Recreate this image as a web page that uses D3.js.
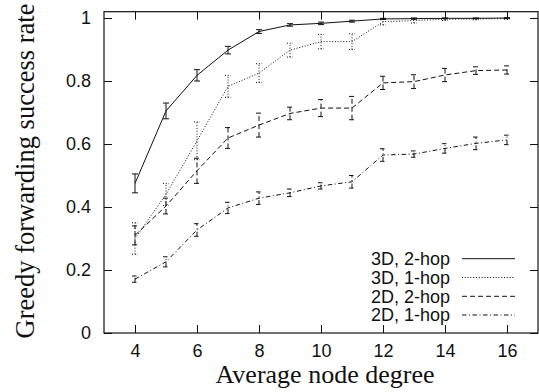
<!DOCTYPE html>
<html><head><meta charset="utf-8">
<script src="https://cdn.jsdelivr.net/npm/d3@7"></script>
<style>body{margin:0;background:#fff}svg{display:block}</style>
</head><body>
<svg id="c" width="539" height="392"></svg>
<script>
const degrees = [4,5,6,7,8,9,10,11,12,13,14,15,16];
const seriesNames = ["3D, 2-hop","3D, 1-hop","2D, 2-hop","2D, 1-hop"];
const s3d2hop = [0.475,0.705,0.818,0.898,0.957,0.978,0.983,0.990,0.997,0.998,0.999,0.999,1.0];
const e3d2hop = [0.030,0.025,0.018,0.012,0.006,0.004,0.004,0.003,0.002,0.002,0.001,0.001,0.001];
const s3d1hop = [0.300,0.440,0.610,0.783,0.825,0.898,0.925,0.925,0.988,0.992,0.996,0.997,0.998];
const e3d1hop = [0.050,0.035,0.060,0.035,0.030,0.022,0.023,0.025,0.010,0.008,0.004,0.003,0.002];
const s2d2hop = [0.310,0.403,0.515,0.619,0.660,0.697,0.714,0.714,0.794,0.798,0.819,0.833,0.835];
const e2d2hop = [0.030,0.025,0.040,0.033,0.038,0.020,0.027,0.037,0.021,0.022,0.021,0.012,0.013];
const s2d1hop = [0.171,0.226,0.327,0.397,0.428,0.445,0.467,0.480,0.565,0.568,0.586,0.602,0.613];
const e2d1hop = [0.010,0.016,0.020,0.018,0.020,0.012,0.010,0.020,0.020,0.010,0.015,0.020,0.015];
const xTicks = [4,6,8,10,12,14,16];
const yTicks = [0,0.2,0.4,0.6,0.8,1];
const xTitle = "Average node degree";
const yTitle = "Greedy forwarding success rate";

const values = [s3d2hop,s3d1hop,s2d2hop,s2d1hop];
const errors = [e3d2hop,e3d1hop,e2d2hop,e2d1hop];
const dashes = [null,"1,1.8","5,3","4.5,2.5,1,2.5"];

const L=104, R=538, T=11.7, B=333;
const x = d3.scaleLinear().domain([3,17]).range([L,R]);
const y = d3.scaleLinear().domain([0,1.02]).range([B,T]);
const svg = d3.select("#c");
const ink = "#111";
const sans = "'Liberation Sans', Arial, sans-serif";
const serif = "'Liberation Serif', 'Times New Roman', serif";

const tl = 8;
svg.append("g").attr("transform",`translate(0,${B})`)
  .call(d3.axisBottom(x).tickValues(xTicks).tickSizeInner(-tl).tickSizeOuter(0).tickPadding(11).tickFormat(d3.format("d")))
  .call(g=>{g.select(".domain").remove();g.selectAll("line").attr("stroke",ink);
    g.selectAll("text").attr("font-family",sans).attr("font-size",18).attr("fill",ink);});
svg.append("g").attr("transform",`translate(0,${T})`)
  .call(d3.axisTop(x).tickValues(xTicks).tickSizeInner(-tl).tickSizeOuter(0).tickFormat(""))
  .call(g=>{g.select(".domain").remove();g.selectAll("line").attr("stroke",ink);});
svg.append("g").attr("transform",`translate(${L},0)`)
  .call(d3.axisLeft(y).tickValues(yTicks).tickSizeInner(-tl).tickSizeOuter(0).tickPadding(13).tickFormat(d=>d===0||d===1?d3.format("d")(d):d3.format(".1f")(d)))
  .call(g=>{g.select(".domain").remove();g.selectAll("line").attr("stroke",ink);
    g.selectAll("text").attr("font-family",sans).attr("font-size",18).attr("fill",ink);});
svg.append("g").attr("transform",`translate(${R},0)`)
  .call(d3.axisRight(y).tickValues(yTicks).tickSizeInner(-tl).tickSizeOuter(0).tickFormat(""))
  .call(g=>{g.select(".domain").remove();g.selectAll("line").attr("stroke",ink);});
svg.append("rect").attr("x",L).attr("y",T).attr("width",R-L).attr("height",B-T)
  .attr("fill","none").attr("stroke",ink).attr("stroke-width",1.2);

const line = d3.line().x(d=>x(d[0])).y(d=>y(d[1]));
values.forEach((vals,i)=>{
  const g = svg.append("g").attr("fill","none").attr("stroke",ink).attr("stroke-width",1)
    .attr("stroke-dasharray",dashes[i]);
  const pts = degrees.map((d,j)=>[d,vals[j]]);
  g.append("path").attr("d",line(pts));
  degrees.forEach((d,j)=>{
    const cx = x(d), y0 = y(vals[j]-errors[i][j]), y1 = y(vals[j]+errors[i][j]);
    g.append("path").attr("d",`M${cx},${y0}V${y1}M${cx-3},${y0}H${cx+3}M${cx-3},${y1}H${cx+3}`);
  });
});

const legY = [258.7,277.5,296.3,315];
seriesNames.forEach((n,i)=>{
  svg.append("text").attr("x",450).attr("y",legY[i]).attr("dy","0.36em").attr("text-anchor","end")
    .attr("font-family",sans).attr("font-size",18).attr("fill",ink).text(n);
  svg.append("line").attr("x1",462).attr("x2",515).attr("y1",legY[i]).attr("y2",legY[i])
    .attr("stroke",ink).attr("stroke-width",1).attr("stroke-dasharray",dashes[i]);
});

svg.append("text").attr("x",325).attr("y",383).attr("text-anchor","middle")
  .attr("font-family",serif).attr("font-size",26).attr("fill",ink).text(xTitle);
svg.append("text").attr("transform",`translate(34,171) rotate(-90)`).attr("text-anchor","middle")
  .attr("font-family",serif).attr("font-size",26.5).attr("fill",ink).text(yTitle);
</script>
</body></html>
